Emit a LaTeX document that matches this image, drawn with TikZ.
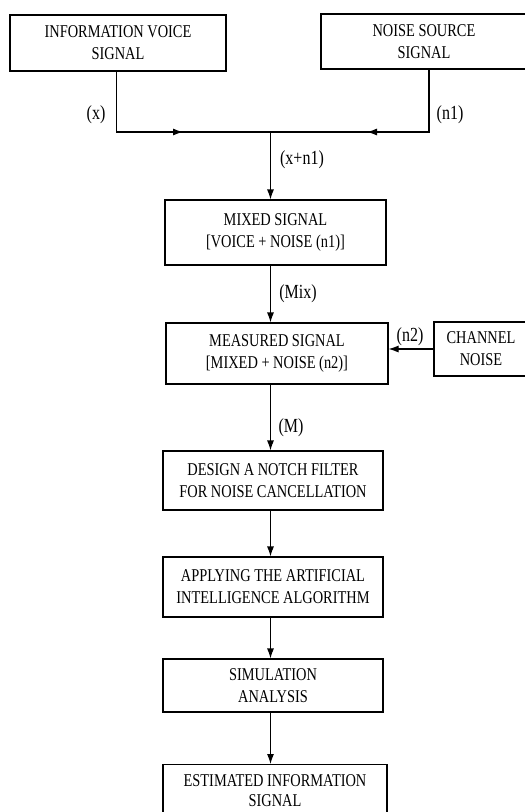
\documentclass[tikz,border=0pt]{standalone}
\usepackage{fontspec}
\setmainfont{Liberation Serif}[FakeStretch=0.8]
\usetikzlibrary{arrows.meta}
\begin{document}
\begin{tikzpicture}[x=1pt,y=-1pt,line width=1.1pt,>={Latex[length=10pt,width=7pt]},
  block/.style={draw,align=center,inner sep=0pt,font=\fontsize{18}{22}\selectfont},
  lbl/.style={font=\fontsize{20}{24}\selectfont}]
\useasboundingbox (0,0) rectangle (525,812);
% sources
\node[block,minimum width=216,minimum height=56] (voice) at (118,43) {INFORMATION VOICE\\SIGNAL};
\node[block,minimum width=206,minimum height=55] (noise) at (424,41.5) {NOISE SOURCE\\SIGNAL};
% processing chain
\node[block,minimum width=221,minimum height=65] (mixed) at (275.5,232.5) {MIXED SIGNAL\\{[}VOICE + NOISE (n1)]};
\node[block,minimum width=222,minimum height=61] (measured) at (277,353.5) {MEASURED SIGNAL\\{[}MIXED + NOISE (n2)]};
\node[block,minimum width=94,minimum height=54] (channel) at (481,349) {CHANNEL\\NOISE};
\node[block,minimum width=220,minimum height=59] (notch) at (273,480.5) {DESIGN A NOTCH FILTER\\FOR NOISE CANCELLATION};
\node[block,minimum width=220,minimum height=60] (ai) at (273,587) {APPLYING THE ARTIFICIAL\\INTELLIGENCE ALGORITHM};
\node[block,minimum width=220,minimum height=53] (sim) at (273,685.5) {SIMULATION\\ANALYSIS};
\node[block,minimum width=224,minimum height=52,anchor=north,
  font=\fontsize{18}{20}\selectfont] (est) at (275,764) {ESTIMATED INFORMATION\\SIGNAL};
% adder lines
\coordinate (xin) at (116.5,132);
\coordinate (nin) at (429,132);
\coordinate (join) at (270.5,132);
\coordinate (xtip) at (183,132);
\coordinate (ntip) at (367,132);
\draw (voice.south -| xin) -- (xin) -- (nin) -- (noise.south -| nin);
\draw[->] (xin) -- (xtip);
\draw[->] (nin) -- (ntip);
\draw[->] (join) -- (join |- mixed.north);
\draw[->] (mixed.south -| join) -- (measured.north -| join);
\draw[->] (channel.west) -- (channel.west -| measured.east);
\draw[->] (measured.south -| join) -- (notch.north -| join);
\draw[->] (notch.south -| join) -- (ai.north -| join);
\draw[->] (ai.south -| join) -- (sim.north -| join);
\draw[->] (sim.south -| join) -- (est.north -| join);
% signal labels
\node[lbl] (lx) at (96,115) {(x)};
\node[lbl] (ln1) at (450,115) {(n1)};
\node[lbl] (lxn) at (302,160) {(x+n1)};
\node[lbl] (lmix) at (298,294) {(Mix)};
\node[lbl] (ln2) at (410,337) {(n2)};
\node[lbl] (lm) at (291,428) {(M)};
\end{tikzpicture}
\end{document}
